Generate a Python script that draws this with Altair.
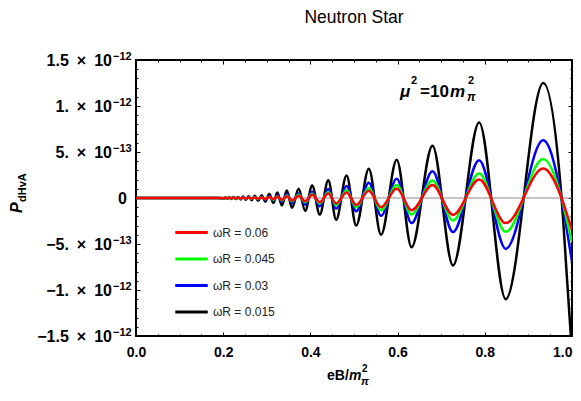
import altair as alt
import pandas as pd

# eB / m_pi^2 positions of the curve's extremes
eb = [0.0, 0.05, 0.10, 0.15, 0.19,
      0.2012, 0.2053, 0.2096, 0.2141, 0.2188, 0.2237, 0.2288, 0.2341, 0.2397, 0.2456,
      0.2518, 0.2583, 0.2652, 0.2724, 0.2800, 0.2881, 0.2966, 0.3057, 0.3154, 0.3240,
      0.3345, 0.3460, 0.3580, 0.3730, 0.3880, 0.4040, 0.4215, 0.4410, 0.4590, 0.4830,
      0.5050, 0.5340, 0.5620, 0.5980, 0.6320, 0.6800, 0.7270, 0.7870, 0.8480, 0.9340,
      0.9760, 0.9900, 1.0]

# P_dHvA in units of 1e-12
p_w0015 = [0, 0, 0, 0, 0,
           -0.006, 0.006, -0.008, 0.008, -0.010, 0.010, -0.012, 0.012, -0.015, 0.015,
           -0.019, 0.019, -0.024, 0.024, -0.031, 0.031, -0.040, 0.043, -0.055, 0.060,
           -0.080, 0.082, -0.107, 0.100, -0.140, 0.137, -0.180, 0.194, -0.237, 0.245,
           -0.300, 0.317, -0.400, 0.417, -0.535, 0.569, -0.733, 0.820, -1.100, 1.250,
           0, -0.98, -1.68]
p_w003 = [0, 0, 0, 0, 0,
          -0.003, 0.003, -0.004, 0.004, -0.005, 0.005, -0.006, 0.006, -0.008, 0.008,
          -0.010, 0.010, -0.012, 0.012, -0.016, 0.016, -0.020, 0.022, -0.028, 0.030,
          -0.040, 0.041, -0.054, 0.050, -0.070, 0.069, -0.090, 0.097, -0.118, 0.130,
          -0.145, 0.166, -0.194, 0.209, -0.273, 0.291, -0.370, 0.410, -0.553, 0.627,
          0, -0.40, -0.69]
p_w0045 = [0, 0, 0, 0, 0,
           -0.002, 0.002, -0.003, 0.003, -0.003, 0.003, -0.004, 0.004, -0.005, 0.005,
           -0.006, 0.006, -0.008, 0.008, -0.010, 0.010, -0.013, 0.014, -0.018, 0.020,
           -0.027, 0.027, -0.036, 0.034, -0.047, 0.046, -0.060, 0.065, -0.079, 0.084,
           -0.100, 0.108, -0.134, 0.140, -0.180, 0.190, -0.245, 0.266, -0.367, 0.425,
           0, -0.28, -0.48]
p_w006 = [0, 0, 0, 0, 0,
          -0.001, 0.001, -0.002, 0.002, -0.002, 0.002, -0.003, 0.003, -0.004, 0.004,
          -0.005, 0.005, -0.006, 0.006, -0.008, 0.008, -0.010, 0.011, -0.014, 0.015,
          -0.020, 0.020, -0.027, 0.025, -0.035, 0.034, -0.045, 0.048, -0.059, 0.061,
          -0.075, 0.079, -0.100, 0.104, -0.134, 0.142, -0.183, 0.200, -0.273, 0.320,
          0, -0.20, -0.35]

series_names = ["ωR = 0.06", "ωR = 0.045", "ωR = 0.03", "ωR = 0.015"]
series_colors = ["#ff0000", "#00ff00", "#0000ff", "#000000"]

GAP = "\u2002"
y_tick_values = [1.5, 1.0, 0.5, 0.0, -0.5, -1.0, -1.5]
y_tick_mantissa = [f"1.5{GAP}×{GAP}10", f"1.{GAP}×{GAP}10", f"5.{GAP}×{GAP}10", "0",
                   f"−5.{GAP}×{GAP}10", f"−1.{GAP}×{GAP}10", f"−1.5{GAP}×{GAP}10"]
y_tick_exponent = ["−12", "−12", "−13", "", "−13", "−12", "−12"]
x_tick_values = [0.0, 0.2, 0.4, 0.6, 0.8, 1.0]
x_minor_values = [i * 0.05 for i in range(21)]
y_minor_values = [round(-1.5 + i * 0.1, 2) for i in range(31)]

FONT = "Liberation Sans"

# draw order: black first, red on top
rows = []
for name, vals in [(series_names[3], p_w0015), (series_names[2], p_w003),
                   (series_names[1], p_w0045), (series_names[0], p_w006)]:
    for x, y in zip(eb, vals):
        rows.append({"eB": x, "P": y, "series": name})
df = pd.DataFrame(rows)

xscale = alt.Scale(domain=[0, 1], nice=False, zero=False, padding=0)
yscale = alt.Scale(domain=[-1.5, 1.5], nice=False, zero=False, padding=0)


def tick_axis(orient, values, size, labels=False, **kw):
    return alt.Axis(orient=orient, values=values, tickSize=size, offset=-size,
                    labels=labels, domain=False, grid=False, title=None,
                    tickColor="black", tickWidth=1, **kw)


zero_rule = alt.Chart(pd.DataFrame({"P": [0.0]})).mark_rule(
    color="#8a8a8a", strokeWidth=1
).encode(y=alt.Y("P:Q", scale=yscale, axis=None))

lines = alt.Chart(df).mark_line(
    strokeWidth=2.5, interpolate="monotone", clip=True
).encode(
    x=alt.X("eB:Q", scale=xscale,
            axis=tick_axis("bottom", x_tick_values, 4, labels=True, format=".1f",
                           labelFont=FONT, labelFontSize=14, labelFontWeight="bold",
                           labelColor="black", labelPadding=9, labelFlush=False,
                           labelOverlap=False,
                           labelAlign={"condition": {"test": "datum.value >= 1",
                                                     "value": "right"},
                                       "value": "center"})),
    y=alt.Y("P:Q", scale=yscale, axis=tick_axis("left", y_tick_values, 4)),
    color=alt.Color("series:N",
                    scale=alt.Scale(domain=series_names, range=series_colors),
                    legend=alt.Legend(orient="none", legendX=41, legendY=158, title=None,
                                      symbolType="M-1.25,0H1.25", symbolSize=676,
                                      symbolStrokeWidth=3, labelFont=FONT, labelFontSize=12,
                                      labelColor="#222222", labelOffset=7, rowPadding=5.5,
                                      padding=0)),
    detail="series:N",
)

frame_df = pd.DataFrame({"eB": [0.0, 1.0], "P": [-1.5, 1.5]})


def ghost(xaxis, yaxis):
    return alt.Chart(frame_df).mark_point(opacity=0).encode(
        x=alt.X("eB:Q", scale=xscale, axis=xaxis),
        y=alt.Y("P:Q", scale=yscale, axis=yaxis),
    )


g1 = ghost(tick_axis("bottom", x_minor_values, 2), tick_axis("left", y_minor_values, 2))
g2 = ghost(tick_axis("top", x_tick_values, 4), tick_axis("right", y_tick_values, 4))
g3 = ghost(tick_axis("top", x_minor_values, 2), tick_axis("right", y_minor_values, 2))

ylab = pd.DataFrame({"tick": y_tick_values, "mant": y_tick_mantissa, "expo": y_tick_exponent})
ybase = alt.Chart(ylab)
mant = ybase.transform_filter("datum.tick != 0").mark_text(
    align="right", baseline="middle", font=FONT, fontSize=16, fontWeight="bold",
    color="black", dy=1
).encode(x=alt.value(-24), y=alt.Y("tick:Q", scale=yscale, axis=None), text="mant:N")
expo = ybase.transform_filter("datum.tick != 0").mark_text(
    align="left", baseline="alphabetic", font=FONT, fontSize=11, fontWeight="bold",
    color="black"
).encode(x=alt.value(-23), y=alt.Y("tick:Q", scale=yscale, axis=None), text="expo:N")
zero_lab = ybase.transform_filter("datum.tick == 0").mark_text(
    align="right", baseline="middle", font=FONT, fontSize=16, fontWeight="bold",
    color="black", dy=1
).encode(x=alt.value(-9), y=alt.Y("tick:Q", scale=yscale, axis=None), text="mant:N")

one = pd.DataFrame({"a": [0]})


def label(text, x, y, size, weight="bold", style="normal", angle=0, align="left"):
    return alt.Chart(one).mark_text(
        align=align, baseline="alphabetic", font=FONT, fontSize=size,
        fontWeight=weight, fontStyle=style, color="black", angle=angle
    ).encode(x=alt.value(x), y=alt.value(y), text=alt.value(text))


annotations = [
    # chart title
    label("Neutron Star", 218, -37, 17.5, weight="normal", align="center"),
    # x-axis title  eB/m_pi^2
    label("eB/", 191, 320, 14),
    label("m", 213, 320, 14, style="italic"),
    label("2", 226, 312, 10),
    label("π", 225, 325, 11, style="italic"),
    # y-axis title  P_dHvA
    label("P", -114, 153, 16, style="italic", angle=270),
    label("dHvA", -110, 142, 11, angle=270),
    # mu^2 = 10 m_pi^2
    label("μ", 264, 37, 17, style="italic"),
    label("2", 275, 24, 11),
    label("=10", 284, 37, 17),
    label("m", 314, 37, 17, style="italic"),
    label("2", 332, 24, 11),
    label("π", 331, 41, 12, style="italic"),
]

chart = alt.layer(
    zero_rule, lines, g1, g2, g3, mant, expo, zero_lab, *annotations
).resolve_axis(
    x="independent", y="independent"
).properties(
    width=436, height=276,
    padding={"left": 128, "top": 52, "right": 1, "bottom": 50},
    autosize=alt.AutoSizeParams(type="none"),
).configure_view(stroke="black", strokeWidth=2)

chart.save("out.html", embed_options={"renderer": "svg", "actions": False})
